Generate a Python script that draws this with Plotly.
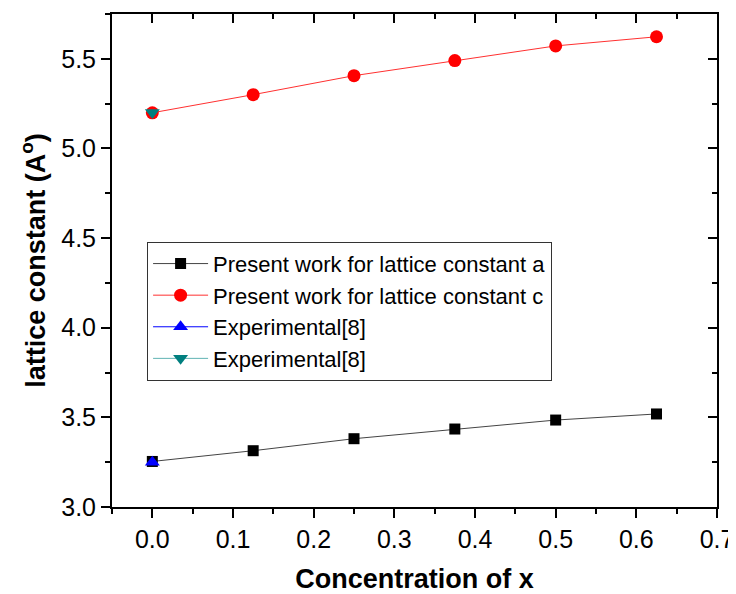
import plotly.graph_objects as go

conc = [0.0, 0.125, 0.25, 0.375, 0.5, 0.625]
a_present = [3.254, 3.314, 3.381, 3.435, 3.485, 3.519]
c_present = [5.199, 5.300, 5.406, 5.490, 5.572, 5.623]
exp_x = [0.0]
exp_a = [3.25]
exp_c = [5.20]

names = ["Present work for lattice constant a",
         "Present work for lattice constant c",
         "Experimental[8]",
         "Experimental[8]"]

FONT = "Liberation Sans, Arial, sans-serif"

fig = go.Figure()
fig.add_trace(go.Scatter(x=conc, y=a_present, mode="lines+markers", name=names[0],
                         line=dict(color="#444444", width=1),
                         marker=dict(symbol="square", size=11, color="black")))
fig.add_trace(go.Scatter(x=conc, y=c_present, mode="lines+markers", name=names[1],
                         line=dict(color="#ff3030", width=1),
                         marker=dict(symbol="circle", size=13, color="#ff0000")))
fig.add_trace(go.Scatter(x=exp_x, y=exp_a, mode="lines+markers", name=names[2],
                         line=dict(color="#0000ff", width=1),
                         marker=dict(symbol="triangle-up", size=13, color="#0000ff")))
fig.add_trace(go.Scatter(x=exp_x, y=exp_c, mode="lines+markers", name=names[3],
                         line=dict(color="#5fb3b3", width=1),
                         marker=dict(symbol="triangle-down", size=13, color="#007f7f")))
# empty trace to activate mirrored top/right axes
fig.add_trace(go.Scatter(x=[], y=[], xaxis="x2", yaxis="y2", showlegend=False, hoverinfo="skip"))

common = dict(showline=True, linecolor="black", linewidth=2, showgrid=False, zeroline=False,
              tickcolor="black", tickwidth=2, ticklen=9, automargin=False)

fig.update_layout(
    width=728, height=586,
    margin=dict(l=104, r=19, t=6, b=87),
    paper_bgcolor="white", plot_bgcolor="white",
    font=dict(family=FONT, color="black"),
    xaxis=dict(range=[-0.05, 0.7], dtick=0.1, tick0=0, ticks="outside", tickformat=".1f",
               tickfont=dict(size=25), ticklabeloverflow="allow",
               minor=dict(dtick=0.05, ticks="outside", ticklen=5, tickwidth=2, tickcolor="black"),
               title=dict(text="<b>Concentration of x</b>", font=dict(size=27), standoff=26),
               **common),
    yaxis=dict(range=[3.0, 5.75], dtick=0.5, tick0=3.0, ticks="outside", tickformat=".1f",
               tickfont=dict(size=25), ticklabeloverflow="allow",
               minor=dict(dtick=0.25, ticks="outside", ticklen=5, tickwidth=2, tickcolor="black"),
               title=dict(text="<b>lattice constant (A<sup>o</sup>)</b>", font=dict(size=27), standoff=8),
               **common),
    xaxis2=dict(overlaying="x", matches="x", side="top", anchor="y2", range=[-0.05, 0.7],
                dtick=0.1, tick0=0, ticks="inside", showticklabels=False,
                minor=dict(dtick=0.05, ticks="inside", ticklen=5, tickwidth=2, tickcolor="black"),
                **common),
    yaxis2=dict(overlaying="y", matches="y", side="right", anchor="x2", range=[3.0, 5.75],
                dtick=0.5, tick0=3.0, ticks="inside", showticklabels=False,
                minor=dict(dtick=0.25, ticks="inside", ticklen=5, tickwidth=2, tickcolor="black"),
                **common),
    legend=dict(x=0.058, y=0.538, xanchor="left", yanchor="top",
                bordercolor="#333333", borderwidth=1, bgcolor="rgba(255,255,255,0)",
                font=dict(size=22, family=FONT), tracegroupgap=0, itemwidth=55),
    showlegend=True,
)

fig.write_html("out.html")
